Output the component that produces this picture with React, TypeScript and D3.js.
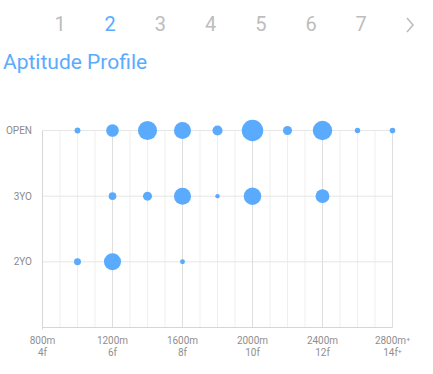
import React from 'react';
import { scaleLinear, scaleSqrt, range } from 'd3';

const pages = ['1', '2', '3', '4', '5', '6', '7'];
const activePage = '2';
const rows = ['OPEN', '3YO', '2YO'];
const tickMeters = [800, 1200, 1600, 2000, 2400, 2800];
const tickFurlongs = ['4f', '6f', '8f', '10f', '12f', '14f'];

// dist (m) / strength per category
const openDist = [1000, 1200, 1400, 1600, 1800, 2000, 2200, 2400, 2600, 2800];
const openVals = [7, 33, 75, 60, 21, 95, 17, 78, 6, 6.5];
const threeDist = [1200, 1400, 1600, 1800, 2000, 2400];
const threeVals = [12, 17, 60, 4, 63, 40];
const twoDist = [1000, 1200, 1600];
const twoVals = [10, 60, 5];

const BLUE = '#5aabfd';
const FONT = 'Roboto, "Noto Sans", sans-serif';

const App: React.FC = () => {
  const W = 433;
  const H = 374;
  const x = scaleLinear().domain([800, 2800]).range([42.5, 392.5]);
  const y = scaleLinear().domain([0, 3]).range([130.5, 327.5]);
  const r = scaleSqrt().domain([0, 100]).range([0, 11]);

  const series = [
    { row: 0, dist: openDist, vals: openVals },
    { row: 1, dist: threeDist, vals: threeVals },
    { row: 2, dist: twoDist, vals: twoVals },
  ];

  const minor = range(900, 2800, 100).filter((d) => d % 400 !== 0);
  const major = range(1200, 2801, 400);

  return (
    <svg
      width={W}
      height={H}
      style={{ position: 'absolute', left: 0, top: 0, fontFamily: FONT }}
    >
      {/* pagination */}
      {pages.map((p, i) => (
        <text
          key={p}
          x={60 + i * 50.2}
          y={31}
          textAnchor="middle"
          fontSize={20}
          fill={p === activePage ? BLUE : '#bdbdbd'}
        >
          {p}
        </text>
      ))}
      <path d="M407,18 L413,25 L407,32" fill="none" stroke="#bdbdbd" strokeWidth={1.6} />

      <text x={3} y={69} fontSize={21} fill={BLUE}>
        Aptitude Profile
      </text>

      {/* grid */}
      {minor.map((d) => (
        <line key={'mi' + d} x1={x(d)} x2={x(d)} y1={y(0)} y2={y(3)} stroke="#efefef" />
      ))}
      {rows.map((rw, i) => (
        <line key={'h' + rw} x1={x(800)} x2={x(2800)} y1={y(i)} y2={y(i)} stroke="#e6e6e6" />
      ))}
      {major.map((d) => (
        <line key={'ma' + d} x1={x(d)} x2={x(d)} y1={y(0)} y2={y(3)} stroke="#dedede" />
      ))}
      <line x1={x(800)} x2={x(800)} y1={y(0)} y2={y(3) + 2} stroke="#d6d6d6" />
      <line x1={x(800)} x2={x(2800)} y1={y(3)} y2={y(3)} stroke="#d6d6d6" />

      {/* row labels */}
      {rows.map((rw, i) => (
        <text
          key={'l' + rw}
          x={32}
          y={y(i) + 3.5}
          textAnchor="end"
          fontSize={10}
          fill="#8a8a8a"
        >
          {rw}
        </text>
      ))}

      {/* x tick labels */}
      {tickMeters.map((m, i) => {
        const last = i === tickMeters.length - 1;
        return (
          <g key={'t' + m} fontSize={10} fill="#8f8f8f" textAnchor="middle">
            <text x={x(m)} y={344}>
              {m + 'm'}
              {last && <tspan fontSize={7} dy={-2}>+</tspan>}
            </text>
            <text x={x(m)} y={355.5}>
              {tickFurlongs[i]}
              {last && <tspan fontSize={7} dy={-2}>+</tspan>}
            </text>
          </g>
        );
      })}

      {/* bubbles */}
      {series.map((s) =>
        s.dist.map((d, i) => (
          <circle
            key={s.row + '-' + d}
            cx={x(d)}
            cy={y(s.row)}
            r={r(s.vals[i])}
            fill={BLUE}
          />
        )),
      )}
    </svg>
  );
};

export default App;
